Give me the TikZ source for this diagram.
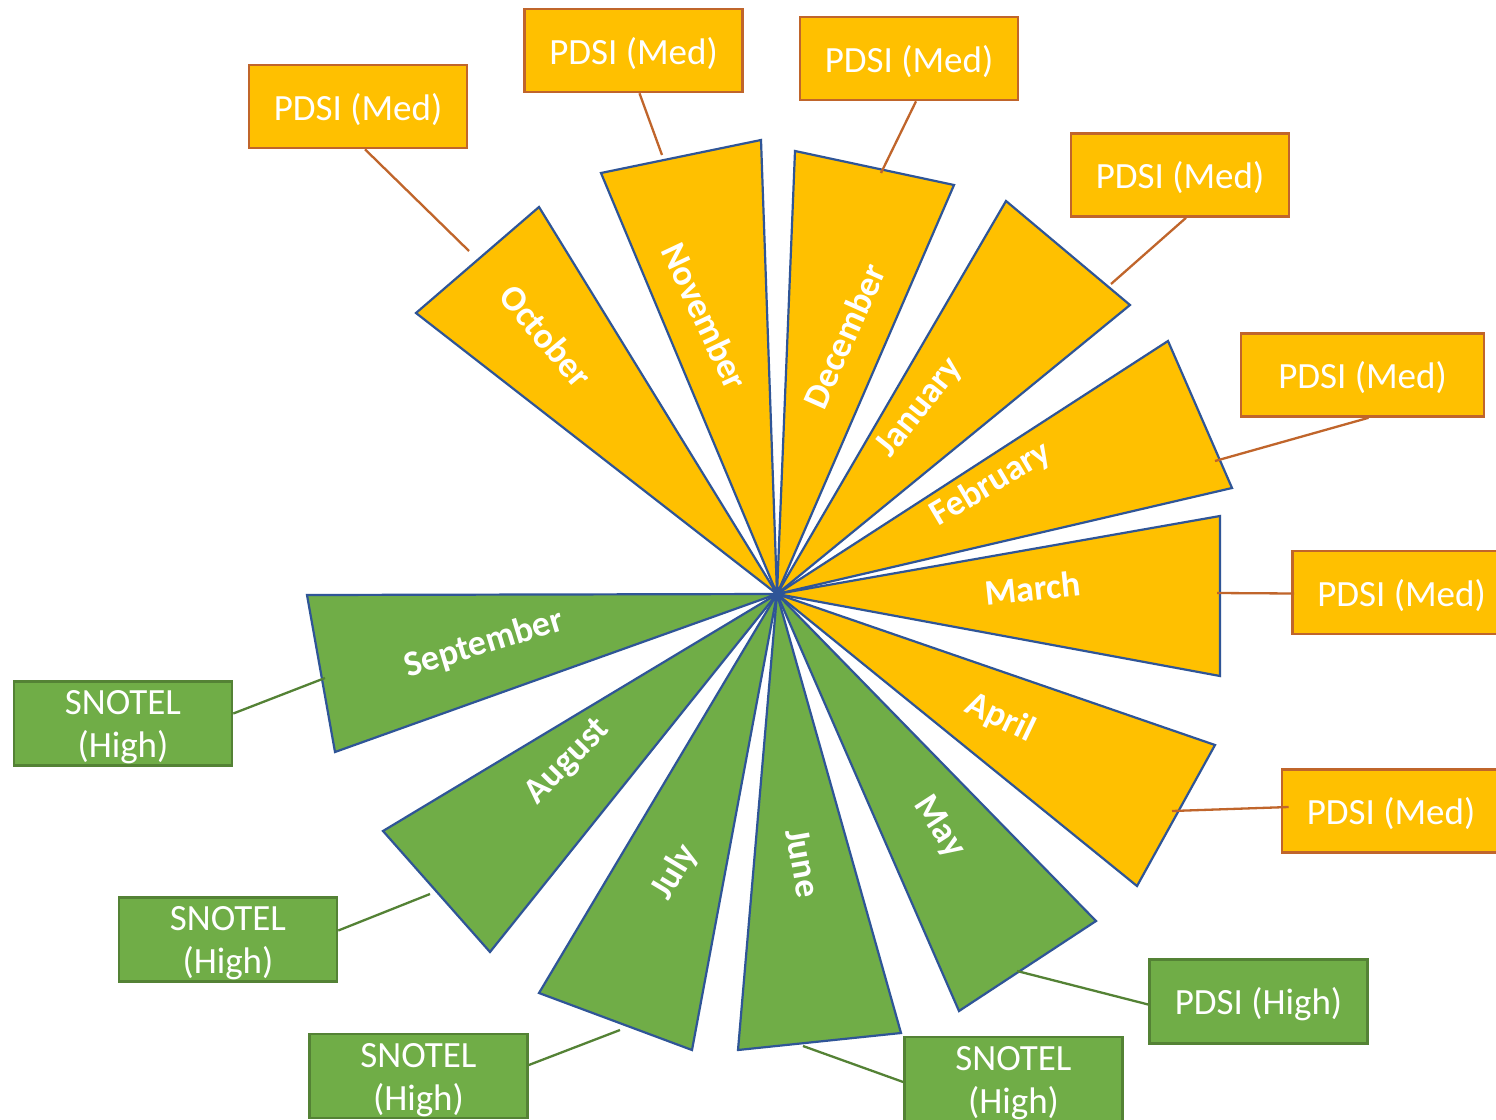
\documentclass[tikz,border=0pt]{standalone}
\usepackage{fontspec}
\setmainfont{Carlito}
\definecolor{gold}{HTML}{FFC000}
\definecolor{leaf}{HTML}{70AD47}
\definecolor{edgeblue}{HTML}{2F5597}
\definecolor{rust}{HTML}{C0652B}
\definecolor{darkleaf}{HTML}{548235}
\tikzset{
  wedgeO/.style={fill=gold, draw=edgeblue, line width=2.2pt, line join=miter},
  wedgeG/.style={fill=leaf, draw=edgeblue, line width=2.2pt, line join=miter},
  mlabel/.style={text=white, font=\fontsize{36}{40}\selectfont\bfseries, inner sep=0pt},
  btext/.style={text=white, inner sep=0pt, align=center, font=\fontsize{37}{43}\selectfont},
  obox/.style={fill=gold, draw=rust, line width=2.6pt, minimum width=218pt, minimum height=83pt, inner sep=0pt},
  gbox/.style={fill=leaf, draw=darkleaf, line width=2.6pt, minimum width=218pt, minimum height=84pt, inner sep=0pt},
  olink/.style={draw=rust, line width=2.3pt},
  glink/.style={draw=darkleaf, line width=2.3pt}
}
\begin{document}
\begin{tikzpicture}[x=1pt,y=-1pt]
\clip (0,0) rectangle (1496,1119);
\fill[white] (0,0) rectangle (1496,1119);
\coordinate (C) at (777,594);
% wedges
\draw[wedgeO] (C) -- (416,313) -- (539,207) -- cycle;
\draw[wedgeO] (C) -- (601,173) -- (761,140) -- cycle;
\draw[wedgeO] (C) -- (795,151) -- (954,185) -- cycle;
\draw[wedgeO] (C) -- (1006,201) -- (1130,305) -- cycle;
\draw[wedgeO] (C) -- (1168,341) -- (1232,488) -- cycle;
\draw[wedgeO] (C) -- (1220,516) -- (1220,676) -- cycle;
\draw[wedgeO] (C) -- (1215,745) -- (1137,886) -- cycle;
\draw[wedgeG] (C) -- (1096,921) -- (959,1011) -- cycle;
\draw[wedgeG] (C) -- (901,1033) -- (738,1050) -- cycle;
\draw[wedgeG] (C) -- (692,1050) -- (539,993) -- cycle;
\draw[wedgeG] (C) -- (490,952) -- (383,831) -- cycle;
\draw[wedgeG] (C) -- (335,752) -- (307,595) -- cycle;
% month labels
\node[mlabel, rotate=-50] (lOct) at (546,336) {October};
\node[mlabel, rotate=-64.7] (lNov) at (705,316) {November};
\node[mlabel, rotate=66] (lDec) at (844,336) {December};
\node[mlabel, rotate=51.5] (lJan) at (920,408) {January};
\node[mlabel, rotate=30.7] (lFeb) at (991,484) {February};
\node[mlabel, rotate=6] (lMar) at (1033,588) {March};
\node[mlabel, rotate=-25.5] (lApr) at (1000,718) {April};
\node[mlabel, rotate=-57] (lMay) at (939,827) {May};
\node[mlabel, rotate=-80] (lJun) at (803,863) {June};
\node[mlabel, rotate=59] (lJul) at (675,872) {July};
\node[mlabel, rotate=45.4] (lAug) at (568,762) {August};
\node[mlabel, rotate=17] (lSep) at (484,644) {September};
% boxes
\node[obox, label={[btext, yshift=-3pt]center:PDSI (Med)}] (bOct) at (358,106.5) {};
\node[obox, label={[btext, yshift=-3pt]center:PDSI (Med)}] (bNov) at (633.5,50.5) {};
\node[obox, label={[btext, yshift=-3pt]center:PDSI (Med)}] (bDec) at (909,58.5) {};
\node[obox, label={[btext, yshift=-3pt]center:PDSI (Med)}] (bJan) at (1180,175) {};
\node[obox, minimum width=243pt, label={[btext, yshift=-3pt]center:PDSI (Med)}] (bFeb) at (1362.5,375) {};
\node[obox, label={[btext, yshift=-3pt]center:PDSI (Med)}] (bMar) at (1401.5,592.5) {};
\node[obox, label={[btext, yshift=-3pt]center:PDSI (Med)}] (bApr) at (1391,811) {};
\node[gbox, label={[btext, yshift=-3pt]center:PDSI (High)}] (bMay) at (1258.5,1001.5) {};
\node[gbox, label={[btext, yshift=-4pt]center:{SNOTEL\\(High)}}] (bJun) at (1013.5,1079) {};
\node[gbox, label={[btext, yshift=-4pt]center:{SNOTEL\\(High)}}] (bJul) at (418.5,1076) {};
\node[gbox, label={[btext, yshift=-4pt]center:{SNOTEL\\(High)}}] (bAug) at (228,939.5) {};
\node[gbox, label={[btext, yshift=-4pt]center:{SNOTEL\\(High)}}] (bSep) at (123,723.5) {};
% attachment points on the wedges
\coordinate (tOct) at (469,251);
\coordinate (tNov) at (662,155);
\coordinate (tDec) at (881,173);
\coordinate (tJan) at (1111,284);
\coordinate (tFeb) at (1215,461);
\coordinate (tMar) at (1217,593);
\coordinate (tApr) at (1172,811);
\coordinate (tMay) at (1017,971);
\coordinate (tJun) at (803,1046);
\coordinate (tJul) at (620,1030);
\coordinate (tAug) at (430,894);
\coordinate (tSep) at (325,678);
% connectors
\draw[olink] ([xshift=7pt]bOct.south) -- (tOct);
\draw[olink] ([xshift=6pt]bNov.south) -- (tNov);
\draw[olink] ([xshift=7pt]bDec.south) -- (tDec);
\draw[olink] ([xshift=6pt]bJan.south) -- (tJan);
\draw[olink] ([xshift=6pt]bFeb.south) -- (tFeb);
\draw[olink] ([xshift=3pt,yshift=-1pt]bMar.west) -- (tMar);
\draw[olink] ([xshift=8pt,yshift=4pt]bApr.west) -- (tApr);
\draw[glink] ([yshift=-3pt]bMay.west) -- (tMay);
\draw[glink] ([yshift=-3pt]bJun.west) -- (tJun);
\draw[glink] ([yshift=11pt]bJul.east) -- (tJul);
\draw[glink] ([yshift=9pt]bAug.east) -- (tAug);
\draw[glink] ([yshift=10pt]bSep.east) -- (tSep);
\end{tikzpicture}
\end{document}
